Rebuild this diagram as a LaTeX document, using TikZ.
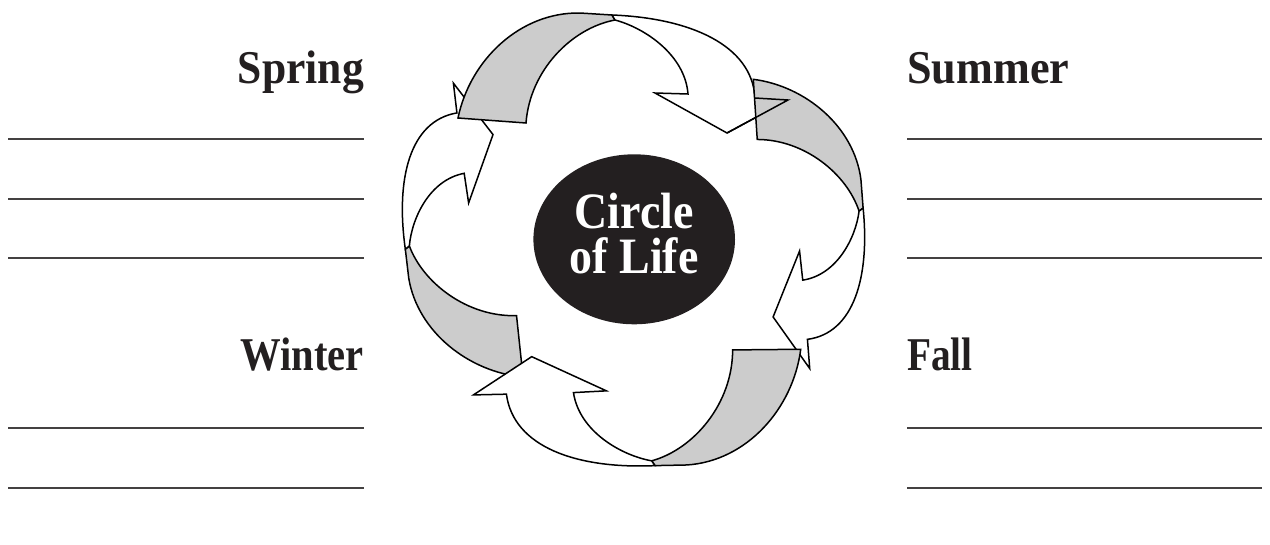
\documentclass[tikz,border=0pt]{standalone}
\usepackage{fontspec}
\setmainfont{Liberation Serif}
\newfontfamily\labelfont[FakeStretch=0.9]{Liberation Serif}
\newfontfamily\corefont[FakeStretch=0.9]{Liberation Serif}
\usetikzlibrary{shapes.geometric}
\definecolor{ink}{HTML}{231F20}
\definecolor{ribbon}{HTML}{CCCCCC}
\newcommand\ArrowTail{(458,118) .. controls (470,60) and (520,12) .. (580,13) -- (612,15) -- (615,20) .. controls (572,28) and (530,70) .. (526,123) -- cycle}
\newcommand\ArrowBody{(612,15) .. controls (690,18) and (752,45) .. (755,98) -- (788,100) -- (727,133) -- (655,93) -- (688,94) .. controls (685,55) and (645,28) .. (615,20) -- cycle}
\newcommand\SeasonArrow{%
  \filldraw[tailpart] \ArrowTail;
  \filldraw[bodypart] \ArrowBody;}
\tikzset{
  outline/.style={draw=black, line width=1.5pt, line join=miter},
  tailpart/.style={outline, fill=ribbon},
  bodypart/.style={outline, fill=white},
  season/.style={font=\labelfont\bfseries\fontsize{47}{50}\selectfont, text=ink, inner sep=0pt},
  blank/.style={draw=ink!85, line width=1.2pt},
}
\begin{document}
\begin{tikzpicture}[x=1pt,y=-1pt]
\fill[white] (0,0) rectangle (1270,544);
\useasboundingbox (0,0) rectangle (1270,544);
% left arrow (winter -> spring)
\begin{scope}[cm={-0.1619,0.8957,-0.9007,-0.0981,(490.9,798.8)}]
  \SeasonArrow
\end{scope}
% top arrow (spring -> summer)
\begin{scope}
  \SeasonArrow
\end{scope}
% right arrow (summer -> fall)
\begin{scope}[cm={0.1228,-0.8799,0.8825,0.0645,(801.2,-331.3)}]
  \SeasonArrow
\end{scope}
% bottom arrow (fall -> winter)
\begin{scope}[cm={-0.9959,-0.0835,0.0742,-1.0048,(1265.6,429.6)}]
  \SeasonArrow
\end{scope}
% head of top arrow seen over the tail of the right arrow
\draw[outline] (755,98) -- (788,100) -- (727,133);
% centre
\node[ellipse, fill=ink, minimum width=201.6pt, minimum height=170pt, inner sep=0pt] (core) at (634.2,239.3) {};
\node[font=\corefont\bfseries\fontsize{51}{45}\selectfont, text=white, align=center, inner sep=0pt] (coretext) at (634.2,234) {Circle\\of Life};
% season labels
\node[season, anchor=base east] (spring) at (364,83) {\scalebox{1.03}[1]{Spring}};
\node[season, anchor=base west] (summer) at (907,83) {\scalebox{1.045}[1]{Summer}};
\node[season, anchor=base east] (winter) at (364,370.5) {\scalebox{0.96}[1]{Winter}};
\node[season, anchor=base west] (fall) at (907,370.5) {\scalebox{0.93}[1]{Fall}};
% blank writing lines
\foreach \yy in {139,199,258} {
  \draw[blank] (8,\yy) -- (364,\yy);
  \draw[blank] (907,\yy) -- (1262,\yy);
}
\foreach \yy in {428,488} {
  \draw[blank] (8,\yy) -- (364,\yy);
  \draw[blank] (907,\yy) -- (1262,\yy);
}
\end{tikzpicture}
\end{document}
